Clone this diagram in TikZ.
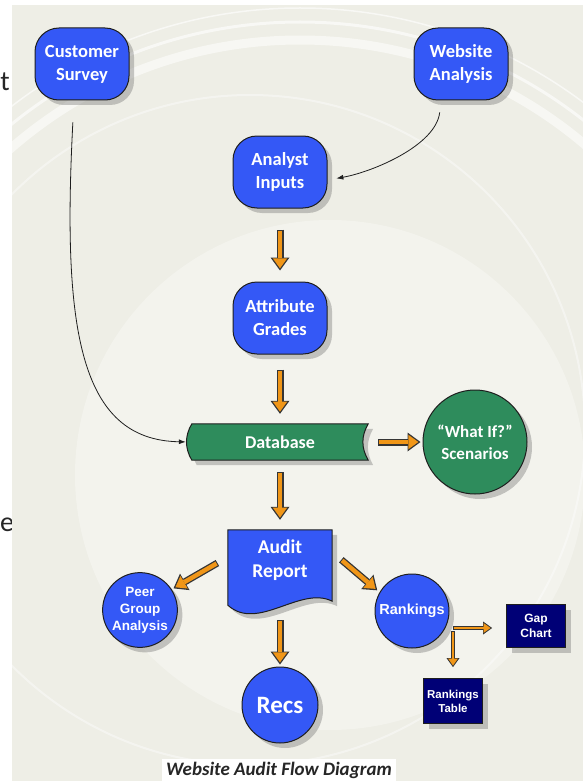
\documentclass[tikz,border=0pt]{standalone}
\usepackage{fontspec}
\setmainfont{Carlito}
\newfontfamily\arialfont{Liberation Sans}
\usetikzlibrary{arrows.meta,positioning,shadows,calc}
\definecolor{boxblue}{RGB}{52,88,246}
\definecolor{dbgreen}{RGB}{46,140,92}
\definecolor{navy}{RGB}{0,0,118}
\definecolor{flow}{RGB}{240,150,24}
\definecolor{panel}{RGB}{238,238,230}
\definecolor{edge}{RGB}{30,30,30}

\begin{document}
\begin{tikzpicture}[x=1pt, y=1pt,
    boxshadow/.style={drop shadow={shadow xshift=5pt, shadow yshift=-5pt, fill=black!60, opacity=.35}},
    roundbox/.style={draw=edge, line width=1pt, fill=boxblue, rounded corners=24pt, minimum width=94pt, minimum height=72pt, text=white, align=center, font=\bfseries\fontsize{18.5}{23}\selectfont, boxshadow},
    disc/.style={circle, draw=edge, line width=1pt, fill=boxblue, text=white, align=center, inner sep=1pt, boxshadow},
    darkbox/.style={draw=edge, line width=.8pt, fill=navy, text=white, align=center, minimum width=59pt, inner sep=2pt, font=\arialfont\bfseries\fontsize{11.5}{14}\selectfont, boxshadow},
    frame/.style={inner sep=0pt},
    pagetext/.style={text=black!85, font=\fontsize{28}{30}\selectfont},
    flowarrow/.style={line width=7pt, draw=edge!90, -{Triangle[length=13pt,width=19pt,line width=0pt]}},
    flowfill/.style={line width=4.4pt, draw=flow, -{Triangle[length=10pt,width=14.5pt,line width=0pt]}},
    smallarrow/.style={line width=4.6pt, draw=edge!90, -{Triangle[length=9pt,width=13pt,line width=0pt]}},
    smallfill/.style={line width=2.6pt, draw=flow, -{Triangle[length=6.8pt,width=9.6pt,line width=0pt]}},
    thinarrow/.style={draw=edge, line width=.8pt, -{Latex[length=7pt,width=5pt]}}
]
    \useasboundingbox (0,0) rectangle (583,-781);

    % page and background
    \node[pagetext] (frag1) at (5,-82) {t};
    \node[pagetext] (frag2) at (7,-525) {e};
    \fill[panel] (12,-5) rectangle (583,-781);
    \begin{scope}
        \clip (12,-5) rectangle (583,-781);
        \fill[white, opacity=.3] (330,-475) circle[radius=255];
        \draw[white, opacity=.55, line width=9pt] (300,-480) circle[radius=440];
        \draw[white, opacity=.6, line width=3pt] (300,-480) circle[radius=458];
        \draw[white, opacity=.6, line width=1.5pt] (300,-480) circle[radius=472];
        \draw[white, opacity=.4, line width=2pt] (250,-430) circle[radius=335];
    \end{scope}

    % top row
    \node[roundbox] (cust) at (82,-64) {Customer\\Survey};
    \node[roundbox] (web) at (461,-64) {Website\\Analysis};
    \node[roundbox] (analyst) at (280,-172) {Analyst\\Inputs};
    \node[roundbox] (attr) at (280,-318) {Attribute\\Grades};

    % database
    \node[frame, minimum width=176pt, minimum height=36pt] (db) at (280,-442) {};
    \path[boxshadow, fill=dbgreen, draw=edge, line width=1pt] (db.north west) to[bend right=30] (db.south west) -- (db.south east) to[bend left=30] (db.north east) -- cycle;
    \node[text=white, font=\bfseries\fontsize{18}{22}\selectfont] (dblabel) at (db) {Database};
    \node[disc, fill=dbgreen, minimum size=104pt, font=\bfseries\fontsize{17}{22}\selectfont] (whatif) at (475,-442) {“What If?”\\Scenarios};

    % report and outputs
    \node[frame, minimum width=104pt, minimum height=82pt] (audit) at (280,-571) {};
    \path[boxshadow, fill=boxblue, draw=edge, line width=1pt] (audit.north west) -- (audit.north east) -- ($(audit.south east)+(0,11)$) .. controls +(-32,16) and +(30,-27) .. ($(audit.south west)+(0,7)$) -- cycle;
    \node[text=white, align=center, font=\bfseries\fontsize{19.5}{24}\selectfont] (auditlabel) at ([yshift=11pt]audit) {Audit\\Report};
    \node[disc, minimum size=72pt, font=\arialfont\bfseries\fontsize{13.5}{17}\selectfont] (peer) at (140,-610) {Peer\\Group\\Analysis};
    \node[disc, minimum size=74pt, font=\arialfont\bfseries\fontsize{14.5}{17}\selectfont] (rank) at (412,-611) {Rankings};
    \node[disc, minimum size=76pt, font=\bfseries\fontsize{25}{28}\selectfont] (recs) at (280,-705) {Recs};
    \node[darkbox, minimum height=43pt, font=\arialfont\bfseries\fontsize{12}{14.5}\selectfont] (gap) at (536,-626) {Gap\\Chart};
    \node[darkbox, minimum height=45pt] (tab) at (453,-701) {Rankings\\Table};
    \coordinate (fork) at (453,-628);

    % thin connectors
    \draw[thinarrow, shorten <=22pt, shorten >=6pt] ([xshift=-8pt]cust.south) .. controls +(-12,-230) and +(-112,2) .. (db.west);
    \draw[thinarrow, shorten <=12pt, shorten >=9pt] ([xshift=-20pt]web.south) .. controls +(-5,-45) and +(45,8) .. ([yshift=-8pt]analyst.east);

    % orange flow
    \foreach \from/\to/\s/\e in {analyst/attr/21/11, attr/db/15/10, db/whatif/10/2, db/audit/12/10, audit.165/peer.33/12/2, audit.20/rank.150/12/3, audit/recs/8/2} {
        \draw[flowarrow, shorten <=\s pt, shorten >=\e pt] (\from) -- (\to);
        \draw[flowfill, shorten <=\s pt+1pt, shorten >=\e pt+2.2pt] (\from) -- (\to);
    }
    \draw[smallarrow, shorten >=14pt] (fork) -- (fork -| gap.west);
    \draw[smallfill, shorten <=1pt, shorten >=15.6pt] (fork) -- (fork -| gap.west);
    \draw[smallarrow, shorten <=3pt, shorten >=11pt] (fork) -- (fork |- tab.north);
    \draw[smallfill, shorten <=4pt, shorten >=12.6pt] (fork) -- (fork |- tab.north);

    % caption
    \node[fill=white, text=black!85, inner xsep=4pt, inner ysep=3pt, font=\bfseries\itshape\fontsize{19}{21}\selectfont] (caption) at (279,-770) {Website Audit Flow Diagram};
\end{tikzpicture}
\end{document}
